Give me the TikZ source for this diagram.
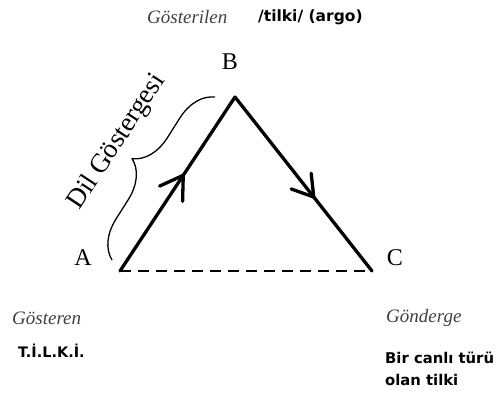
\documentclass[tikz,border=0pt]{standalone}
\usepackage{fontspec}
\setmainfont{Liberation Serif}
\newfontfamily\boldsans{DejaVu Sans}
\usetikzlibrary{decorations.pathreplacing,calc}
\begin{document}
\begin{tikzpicture}[x=1pt,y=-1pt,
  side/.style={line width=3.3pt, line cap=round},
  chevron/.style={line width=3.3pt, line cap=round, line join=miter},
  vlabel/.style={font=\fontsize{24}{26}\selectfont},
  itlabel/.style={font=\fontsize{19}{21}\selectfont\itshape, text=black!75, anchor=west, inner sep=0},
  bdlabel/.style={font=\fontsize{15.5}{22}\selectfont\boldsans\bfseries, anchor=west, inner sep=0, align=left}]
\useasboundingbox (0,0) rectangle (496,394);
\coordinate (A) at (120,271);
\coordinate (B) at (235,97);
\coordinate (C) at (372,271);
\draw[side] (A) -- (B);
\draw[side] (B) -- (C);
\coordinate (t1) at ($(A)!0.55!(B)$);
\coordinate (t2) at ($(B)!0.575!(C)$);
\draw[chevron] ($(t1)!26pt!32:(A)$) -- (t1) -- ($(t1)!26pt!-32:(A)$);
\draw[chevron] ($(t2)!24pt!32:(B)$) -- (t2) -- ($(t2)!24pt!-32:(B)$);
\draw[line width=2.8pt, dash pattern=on 11pt off 7pt] (A) -- (C);
\node[vlabel] (lb) at (230,62) {B};
\node[vlabel] (la) at (83,258) {A};
\node[vlabel] (lc) at (395,258) {C};
\coordinate (br1) at (112,260);
\coordinate (br2) at (215,97);
\draw[line width=1.3pt, decorate, decoration={brace, amplitude=37pt, aspect=0.5}] (br1) -- (br2);
\node[rotate=56.5, font=\fontsize{27}{29}\selectfont] (dil) at (117,142) {Dil Göstergesi};
\node[itlabel] (gosterilen) at (147,17) {Gösterilen};
\node[bdlabel] (tilki) at (258,17) {/tilki/ (argo)};
\node[itlabel] (gosteren) at (12,318) {Gösteren};
\node[bdlabel, font=\fontsize{14.5}{22}\selectfont\boldsans\bfseries] (tlk) at (18,351) {T.İ.L.K.İ.};
\node[itlabel] (gonderge) at (386,318) {Gönderge};
\node[bdlabel, font=\fontsize{14.8}{22}\selectfont\boldsans\bfseries] (bir) at (385,369) {Bir canlı türü\\olan tilki};
\end{tikzpicture}
\end{document}
